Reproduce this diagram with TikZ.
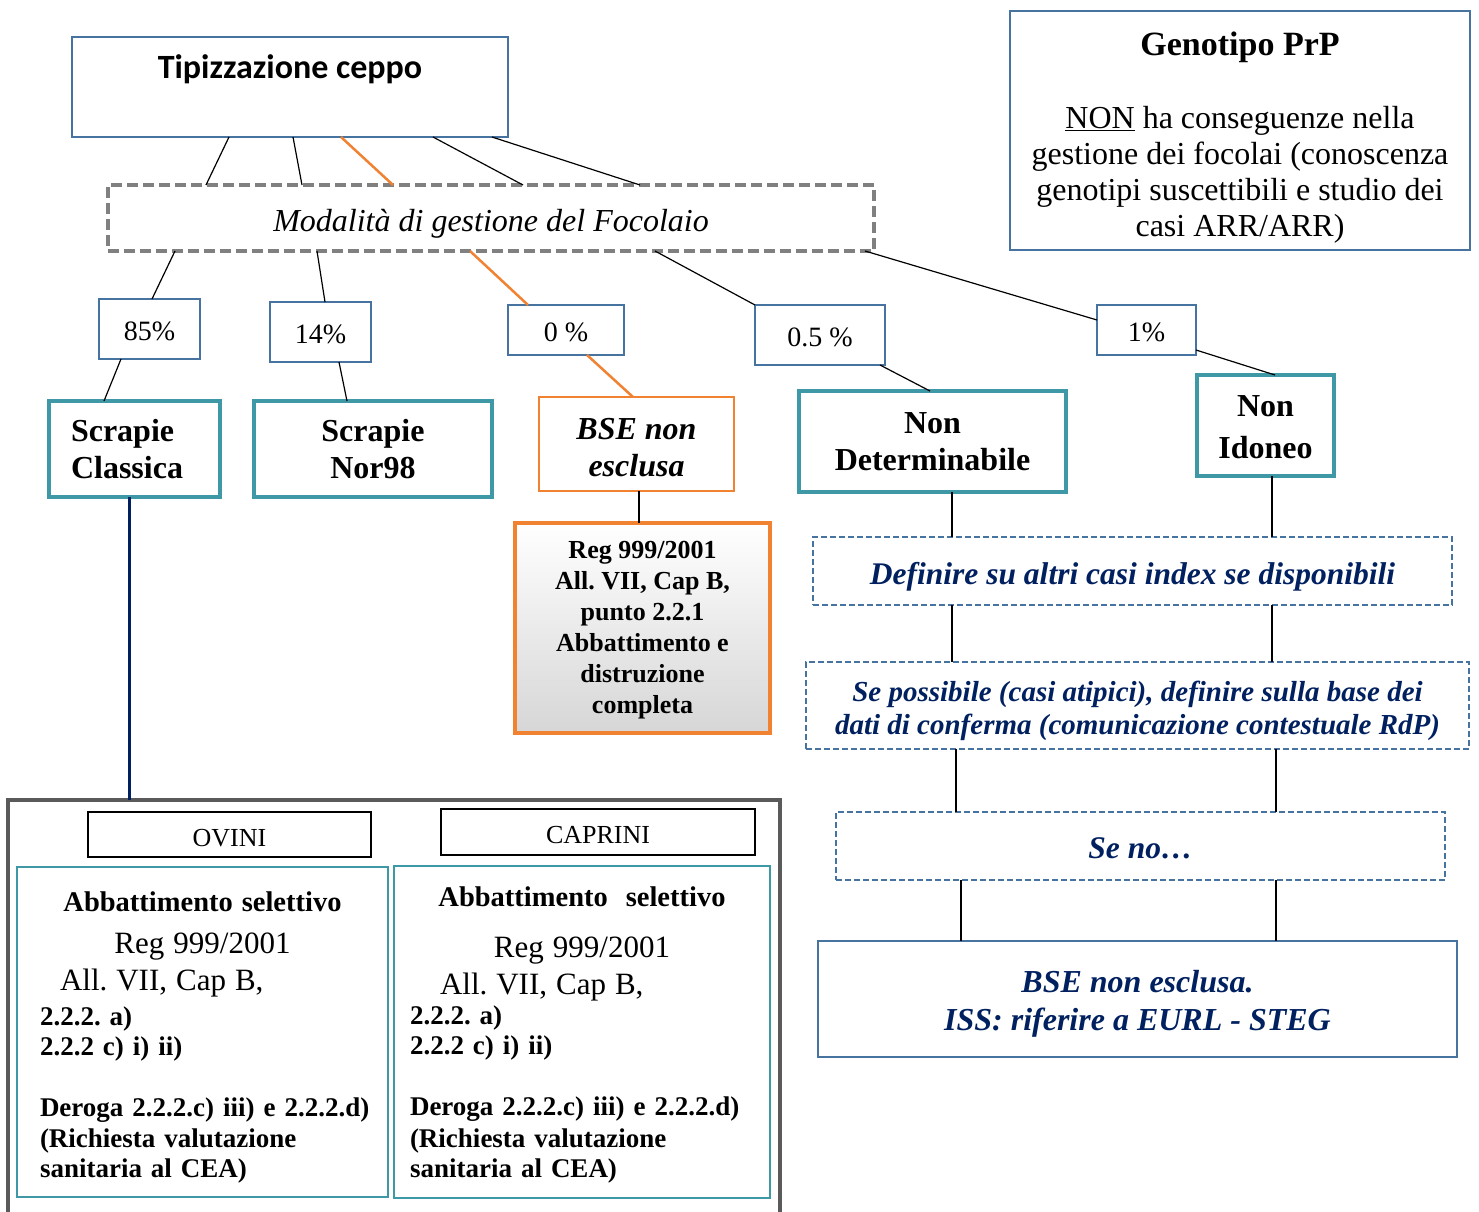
\documentclass[tikz,border=0pt]{standalone}
\usepackage{fontspec}
\setmainfont{Liberation Serif}
\newfontfamily\calibri{Carlito}
\usepackage{tikz}
\usetikzlibrary{calc,positioning}
\definecolor{boxblue}{RGB}{70,115,160}
\definecolor{boxteal}{RGB}{62,152,165}
\definecolor{boxorange}{RGB}{240,130,50}
\definecolor{navytext}{RGB}{0,32,96}
\definecolor{dashgrey}{RGB}{128,128,128}
\definecolor{framegrey}{RGB}{90,90,90}
\newcommand{\upstrut}[1]{\rule{0pt}{#1}}
\newcommand{\midline}[1]{\leavevmode\hbox to\hsize{\hss#1\hss}}
\frenchspacing

\begin{document}
\begin{tikzpicture}[x=1pt,y=-1pt,every node/.style={outer sep=0pt}]

\tikzset{bluebox/.style={draw=boxblue,line width=2.5pt,inner sep=0pt},
pctbox/.style={bluebox,font=\fontsize{28}{32}\selectfont},
tealbox/.style={draw=boxteal,line width=4pt,inner sep=0pt,align=center,font=\bfseries\fontsize{32}{37}\selectfont},
dashbox/.style={draw=boxblue,line width=2pt,dash pattern=on 6pt off 3pt,inner sep=0pt,align=center,text=navytext,font=\bfseries\itshape\fontsize{31.5}{33}\selectfont},
link/.style={line width=1.2pt},
olink/.style={draw=boxorange,line width=2.5pt},
vlink/.style={line width=2pt}}

\useasboundingbox (0,0) rectangle (1479,1211);

% Top boxes
\node[bluebox,minimum width=436pt,minimum height=100pt,label={[anchor=base,yshift=-41pt,font=\calibri\bfseries\fontsize{34}{40}\selectfont]north:Tipizzazione ceppo}] (tipo) at (290,87) {};
\node[bluebox,minimum width=460pt,minimum height=239pt,align=center,font=\fontsize{32}{36}\selectfont] (geno) at (1240,130.5) {\upstrut{38pt}{\bfseries\fontsize{34}{36}\selectfont Genotipo PrP}\\[37pt]\underline{NON} ha conseguenze nella\\gestione dei focolai (conoscenza\\genotipi suscettibili e studio dei\\casi ARR/ARR)};
\node[draw=dashgrey,line width=3.5pt,dash pattern=on 11pt off 5pt,minimum width=766pt,minimum height=66pt,font=\itshape\fontsize{32}{36}\selectfont] (modal) at (491,218) {\upstrut{33pt}Modalità di gestione del Focolaio};

% percentages
\node[pctbox,minimum width=101pt,minimum height=60pt] (p85) at (149.5,329) {\upstrut{23pt}85\%};
\node[pctbox,minimum width=101pt,minimum height=60pt] (p14) at (320.5,332) {\upstrut{23pt}14\%};
\node[pctbox,minimum width=116pt,minimum height=50pt] (p0) at (566,330) {\upstrut{23pt}0 \%};
\node[pctbox,minimum width=130pt,minimum height=60pt] (p05) at (820,335) {\upstrut{23pt}0.5 \%};
\node[pctbox,minimum width=99pt,minimum height=50pt] (p1) at (1146.5,330) {\upstrut{23pt}1\%};

% outcomes
\node[tealbox,minimum width=171pt,minimum height=96pt,text width=127pt,align=left] (scl) at (134.5,449) {Scrapie\\Classica};
\node[tealbox,minimum width=238pt,minimum height=96pt] (nor) at (373,449) {Scrapie\\Nor98};
\node[draw=boxorange,line width=2pt,inner sep=0pt,minimum width=195pt,minimum height=94pt,align=center,font=\bfseries\itshape\fontsize{32}{37}\selectfont] (bse) at (636.5,444) {\upstrut{28pt}BSE non\\esclusa};
\node[tealbox,minimum width=267pt,minimum height=101pt] (nondet) at (932.5,441.5) {Non\\Determinabile};
\node[tealbox,minimum width=137pt,minimum height=101pt,font=\bfseries\fontsize{32}{42}\selectfont] (nonid) at (1265.5,425.5) {\upstrut{25pt}Non\\Idoneo};
\node[draw=boxorange,line width=4pt,top color=white,bottom color=black!16,minimum width=255pt,minimum height=210pt,align=center,font=\bfseries\fontsize{26}{31}\selectfont] (reg) at (642.5,628) {\upstrut{22pt}Reg 999/2001\\All. VII, Cap B,\\punto 2.2.1\\Abbattimento e\\distruzione\\completa};

% right column
\node[dashbox,minimum width=639pt,minimum height=68pt] (def) at (1132.5,571) {\upstrut{33pt}Definire su altri casi index se disponibili};
\node[dashbox,minimum width=663pt,minimum height=87pt,font=\bfseries\itshape\fontsize{29}{33}\selectfont] (sepos) at (1137.5,705.5) {\upstrut{32pt}Se possibile (casi atipici), definire sulla base dei\\dati di conferma (comunicazione contestuale RdP)};
\node[dashbox,minimum width=609pt,minimum height=68pt] (seno) at (1140.5,846) {\upstrut{25pt}Se no…};
\node[bluebox,minimum width=639pt,minimum height=116pt,align=center,text=navytext,font=\bfseries\itshape\fontsize{32}{38}\selectfont] (iss) at (1137.5,999) {\upstrut{32pt}BSE non esclusa.\\ISS: riferire a EURL - STEG};

% bottom left frame
\draw[line width=3.5pt,draw=framegrey] (8,1220) -- (8,800) -- (780,800) -- (780,1220);
\coordinate (frametop) at (129,800);
\node[draw,line width=1.2pt,minimum width=283pt,minimum height=45pt,font=\fontsize{26}{30}\selectfont] (ovini) at (229.5,834.5) {\upstrut{24pt}OVINI};
\node[draw,line width=1.2pt,minimum width=314pt,minimum height=46pt,font=\fontsize{26}{30}\selectfont] (caprini) at (598,832) {\upstrut{24pt}CAPRINI};
\node[draw=boxteal,line width=2.5pt,inner sep=0pt,minimum width=371pt,minimum height=330pt,text width=325pt,align=left,font=\bfseries\fontsize{27}{30}\selectfont] (ovsel) at (202.5,1032) {%
\midline{\upstrut{30pt}\fontsize{28.5}{30}\selectfont Abbattimento selettivo}\\[12pt]
\midline{\mdseries\fontsize{31}{30}\selectfont Reg 999/2001}\\[7pt]
\hspace*{20pt}{\mdseries\fontsize{31}{30}\selectfont All. VII, Cap B,}\\[5pt]
2.2.2. a)\\
2.2.2 c) i) ii)\\[31pt]
\mbox{Deroga 2.2.2.c) iii) e 2.2.2.d)}\\[1pt]
(Richiesta valutazione\\
sanitaria al CEA)};
\node[draw=boxteal,line width=2.5pt,inner sep=0pt,minimum width=376pt,minimum height=332pt,text width=344pt,align=left,font=\bfseries\fontsize{27}{30}\selectfont] (capsel) at (582,1032) {%
\midline{\upstrut{26pt}\fontsize{28.5}{30}\selectfont Abbattimento~~selettivo}\\[21pt]
\midline{\mdseries\fontsize{31}{30}\selectfont Reg 999/2001}\\[7pt]
\hspace*{30pt}{\mdseries\fontsize{31}{30}\selectfont All. VII, Cap B,}\\[0pt]
2.2.2. a)\\
2.2.2 c) i) ii)\\[31pt]
\mbox{Deroga 2.2.2.c) iii) e 2.2.2.d)}\\[2pt]
(Richiesta valutazione\\
sanitaria al CEA)};

% Edges
\draw[link] ([xshift=157pt]tipo.south west) -- ([xshift=98pt]modal.north west);
\draw[link] ([xshift=221pt]tipo.south west) -- ([xshift=194pt]modal.north west);
\draw[olink] ([xshift=269pt]tipo.south west) -- ([xshift=285pt]modal.north west);
\draw[link] ([xshift=361pt]tipo.south west) -- ([xshift=415pt]modal.north west);
\draw[link] ([xshift=420pt]tipo.south west) -- ([xshift=532pt]modal.north west);

\draw[link] ([xshift=67pt]modal.south west) -- ([xshift=53pt]p85.north west);
\draw[link] ([xshift=209pt]modal.south west) -- ([xshift=55pt]p14.north west);
\draw[olink] ([xshift=362pt]modal.south west) -- ([xshift=20pt]p0.north west);
\draw[link] ([xshift=547pt]modal.south west) -- (p05.north west);
\draw[link] ([xshift=-9pt]modal.south east) -- ([yshift=10pt]p1.west);

\draw[link] ([xshift=22pt]p85.south west) -- ([xshift=55pt]scl.north west);
\draw[link] ([xshift=69pt]p14.south west) -- ([xshift=93pt]nor.north west);
\draw[olink] ([xshift=79pt]p0.south west) -- ([xshift=94pt]bse.north west);
\draw[link] ([xshift=-5pt]p05.south east) -- ([xshift=131pt]nondet.north west);
\draw[link] ([yshift=5pt]p1.south east) -- ([xshift=78pt]nonid.north west);

\draw[vlink] ([xshift=2.5pt]bse.south) -- ([xshift=-3.5pt]reg.north);
\draw[line width=3pt,draw=navytext] ([xshift=80pt]scl.south west) -- (frametop);

\foreach \a/\sa/\b/\sb in {nondet/153/def/139, nonid/75/def/459, def/139/sepos/146, def/459/sepos/466, sepos/150/seno/120, sepos/470/seno/440, seno/125/iss/143, seno/440/iss/458}
  \draw[vlink] ([xshift=\sa pt]\a.south west) -- ([xshift=\sb pt]\b.north west);

\end{tikzpicture}
\end{document}
